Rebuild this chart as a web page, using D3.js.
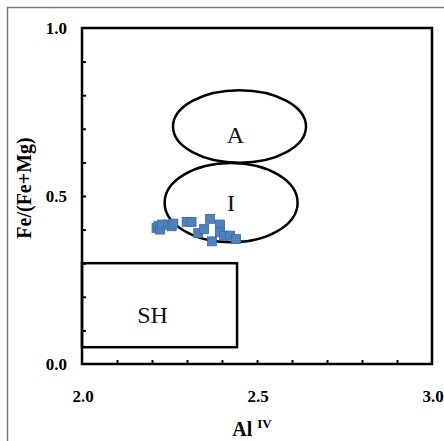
<!DOCTYPE html>
<meta charset="utf-8">
<script src="https://d3js.org/d3.v7.min.js"></script>
<style>
  body { margin: 0; background: #fff; }
</style>
<svg id="chart" width="444" height="441"></svg>
<script>

// Data: Al IV vs Fe/(Fe+Mg)
var alIV = [2.213, 2.218, 2.223, 2.228, 2.247, 2.256, 2.261, 2.299, 2.313, 2.332, 2.349, 2.366, 2.371, 2.394, 2.394, 2.406, 2.423, 2.440];
var feMg = [0.405, 0.410, 0.400, 0.415, 0.415, 0.410, 0.418, 0.423, 0.423, 0.390, 0.402, 0.432, 0.365, 0.415, 0.392, 0.382, 0.382, 0.372];

// discrimination fields
var fieldNames = ["A", "I"];
var fieldCx = [2.450, 2.426];
var fieldCy = [0.707, 0.480];
var fieldRx = [0.190, 0.190];
var fieldRy = [0.108, 0.118];
var shBox = [2.0, 2.443, 0.05, 0.30];   // x0, x1, y0, y1

var xTicks = [2.0, 2.5, 3.0];
var yTicks = [0.0, 0.5, 1.0];

var serif = "'Liberation Serif', 'Times New Roman', Times, serif";
var svg = d3.select("#chart").attr("font-family", serif);

// outer frame
svg.append("rect")
  .attr("x", 7.5).attr("y", 7.5)
  .attr("width", 450).attr("height", 450)
  .attr("fill", "none").attr("stroke", "#777").attr("stroke-width", 1.5);

var x = d3.scaleLinear().domain([2, 3]).range([82, 432]);
var y = d3.scaleLinear().domain([0, 1]).range([364, 28]);

// minor inward ticks
svg.append("g")
  .attr("transform", "translate(0," + y(0) + ")")
  .call(d3.axisTop(x).tickValues(d3.range(2.1, 2.95, 0.1)).tickSize(4).tickFormat(""))
  .call(function(g){ g.select(".domain").remove() })
  .selectAll("line").attr("stroke", "#000").attr("stroke-width", 2);

svg.append("g")
  .attr("transform", "translate(" + x(2) + ",0)")
  .call(d3.axisRight(y).tickValues(d3.range(0.1, 0.95, 0.1)).tickSize(4).tickFormat(""))
  .call(function(g){ g.select(".domain").remove() })
  .selectAll("line").attr("stroke", "#000").attr("stroke-width", 2);

// plot frame
svg.append("rect")
  .attr("x", x(2)).attr("y", y(1))
  .attr("width", x(3) - x(2)).attr("height", y(0) - y(1))
  .attr("fill", "none").attr("stroke", "#000").attr("stroke-width", 2.5);

// tick labels
svg.selectAll(".xl").data(xTicks).enter().append("text")
  .attr("x", function(d){ return x(d) + 1 })
  .attr("y", 402)
  .attr("text-anchor", "middle")
  .attr("font-family", serif)
  .style("font-size", "17px").style("font-weight", "bold")
  .text(function(d){ return d.toFixed(1) });

svg.selectAll(".yl").data(yTicks).enter().append("text")
  .attr("x", 67)
  .attr("y", function(d){ return y(d) + 6 })
  .attr("text-anchor", "end")
  .attr("font-family", serif)
  .style("font-size", "17px").style("font-weight", "bold")
  .text(function(d){ return d.toFixed(1) });

// axis titles
svg.append("text")
  .attr("transform", "translate(31,188) rotate(-90)")
  .attr("text-anchor", "middle")
  .attr("font-family", serif)
  .style("font-size", "20px").style("font-weight", "bold")
  .text("Fe/(Fe+Mg)");

var xt = svg.append("text")
  .attr("x", 252).attr("y", 436)
  .attr("text-anchor", "middle")
  .attr("font-family", serif)
  .style("font-weight", "bold");
xt.append("tspan").style("font-size", "20px").text("Al ");
xt.append("tspan").style("font-size", "13px").attr("dy", -8).text("IV");

// fields
svg.selectAll(".field").data(fieldNames).enter().append("ellipse")
  .attr("cx", function(d, i){ return x(fieldCx[i]) })
  .attr("cy", function(d, i){ return y(fieldCy[i]) })
  .attr("rx", function(d, i){ return x(2 + fieldRx[i]) - x(2) })
  .attr("ry", function(d, i){ return y(0) - y(fieldRy[i]) })
  .attr("fill", "none").attr("stroke", "#000").attr("stroke-width", 2.5);

svg.append("rect")
  .attr("x", x(shBox[0])).attr("y", y(shBox[3]))
  .attr("width", x(shBox[1]) - x(shBox[0]))
  .attr("height", y(shBox[2]) - y(shBox[3]))
  .attr("fill", "none").attr("stroke", "#000").attr("stroke-width", 2.5);

svg.selectAll(".flab").data(fieldNames).enter().append("text")
  .attr("x", function(d, i){ return x(fieldCx[i]) - (i == 0 ? 4 : 0) })
  .attr("y", function(d, i){ return i == 0 ? 143 : 211 })
  .attr("text-anchor", "middle")
  .attr("font-family", serif)
  .style("font-size", "24px").attr("fill", "#111")
  .text(function(d){ return d });

svg.append("text")
  .attr("x", (x(shBox[0]) + x(shBox[1])) / 2 - 7)
  .attr("y", 323)
  .attr("text-anchor", "middle")
  .attr("font-family", serif)
  .style("font-size", "24px").attr("fill", "#111")
  .text("SH");

// samples
svg.selectAll(".pt").data(alIV).enter().append("rect")
  .attr("x", function(d){ return x(d) - 4.5 })
  .attr("y", function(d, i){ return y(feMg[i]) - 4.5 })
  .attr("width", 9).attr("height", 9)
  .attr("fill", "#4f81bd").attr("stroke", "#3b6aa6").attr("stroke-width", 0.8);

</script>
